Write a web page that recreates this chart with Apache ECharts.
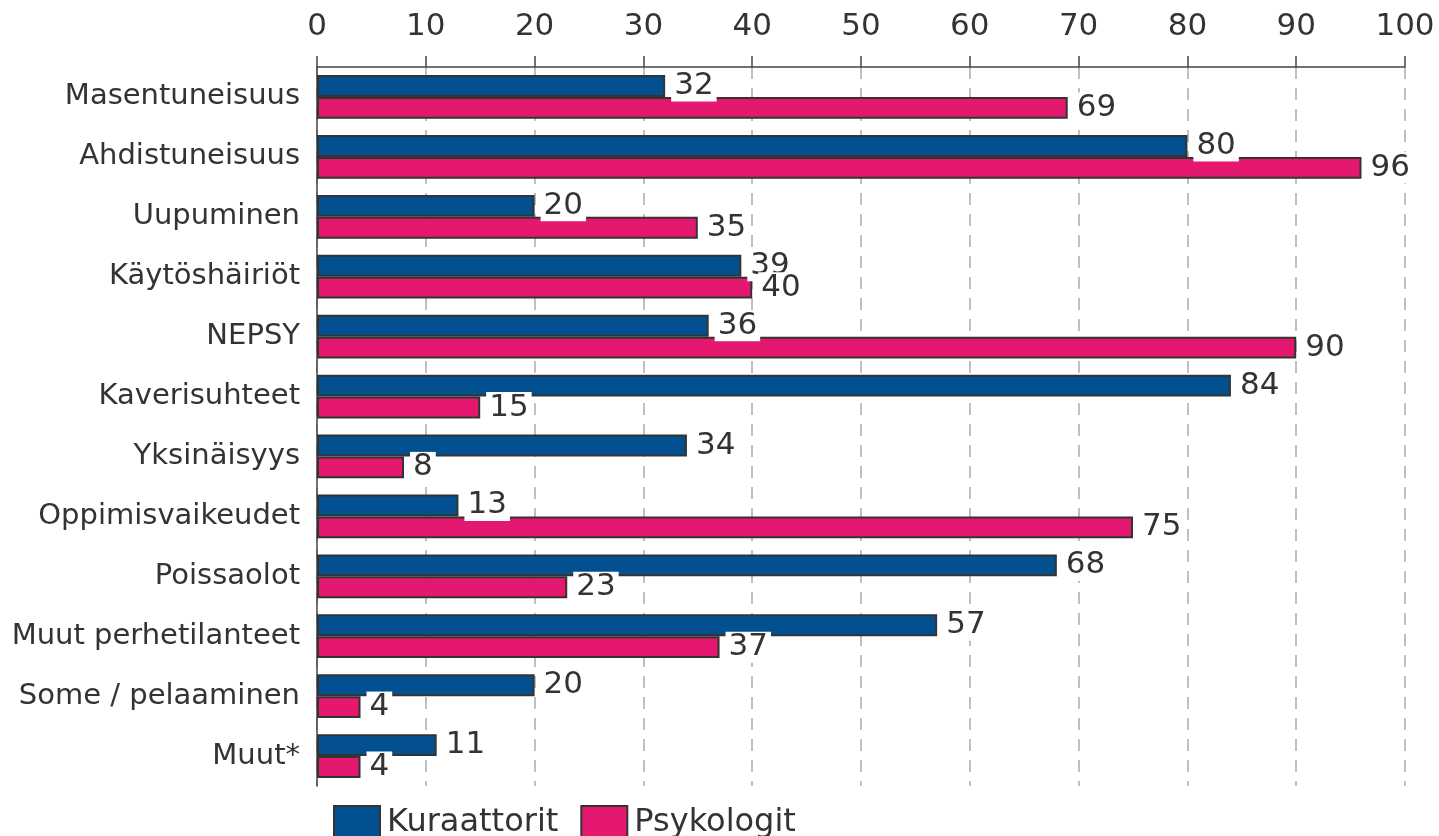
<!DOCTYPE html>
<html>
<head>
<meta charset="utf-8">
<script src="https://cdn.jsdelivr.net/npm/echarts@6/dist/echarts.min.js"></script>
<style>
  html, body { margin: 0; padding: 0; background: #fff; }
  #main { width: 1439px; height: 836px; }
</style>
</head>
<body>
<div id="main"></div>
<script>
// categories, top to bottom
const categories = ['Masentuneisuus', 'Ahdistuneisuus', 'Uupuminen', 'Käytöshäiriöt', 'NEPSY',
  'Kaverisuhteet', 'Yksinäisyys', 'Oppimisvaikeudet', 'Poissaolot', 'Muut perhetilanteet',
  'Some / pelaaminen', 'Muut*'];
const kuraattorit = [32, 80, 20, 39, 36, 84, 34, 13, 68, 57, 20, 11];
const psykologit = [69, 96, 35, 40, 90, 15, 8, 75, 23, 37, 4, 4];
const ticks = { min: 0, max: 100, interval: 10 };

const chart = echarts.init(document.getElementById('main'));
const font = 'DejaVu Sans';

function valueLabel() {
  return {
    show: true,
    position: 'right',
    distance: 6,
    color: '#333',
    fontFamily: font,
    fontSize: 31,
    backgroundColor: '#fff',
    padding: [0, 3]
  };
}

const option = {
  animation: false,
  textStyle: { fontFamily: font },
  grid: { left: 317, right: 34, top: 67, bottom: 50 },
  legend: {
    left: 328,
    top: 800,
    icon: 'rect',
    itemWidth: 46,
    itemHeight: 33,
    itemGap: 22,
    textStyle: { fontSize: 32, color: '#333', fontFamily: font, padding: [0, 0, 0, 2] },
    data: ['Kuraattorit', 'Psykologit']
  },
  xAxis: {
    type: 'value',
    position: 'top',
    min: ticks.min,
    max: ticks.max,
    interval: ticks.interval,
    axisLine: { show: true, lineStyle: { color: '#444', width: 1.5 } },
    axisTick: { show: true, length: 11, lineStyle: { color: '#444', width: 1.5 } },
    axisLabel: { fontSize: 31, color: '#333', margin: 25, fontFamily: font },
    splitLine: { show: true, lineStyle: { color: '#aaa', width: 1.5, type: [12, 9] } }
  },
  yAxis: {
    type: 'category',
    inverse: true,
    data: categories,
    axisLine: { show: true, lineStyle: { color: '#444', width: 1.5 } },
    axisTick: { show: false },
    axisLabel: { fontSize: 29, color: '#333', margin: 17, fontFamily: font }
  },
  series: [
    {
      name: 'Kuraattorit',
      type: 'bar',
      data: kuraattorit,
      barGap: '0%',
      barCategoryGap: '27%',
      itemStyle: { color: '#02508f', borderColor: '#333', borderWidth: 2 },
      label: valueLabel()
    },
    {
      name: 'Psykologit',
      type: 'bar',
      data: psykologit,
      barGap: '0%',
      barCategoryGap: '27%',
      itemStyle: { color: '#e5186f', borderColor: '#333', borderWidth: 2 },
      label: valueLabel()
    }
  ]
};

chart.setOption(option);
</script>
</body>
</html>
